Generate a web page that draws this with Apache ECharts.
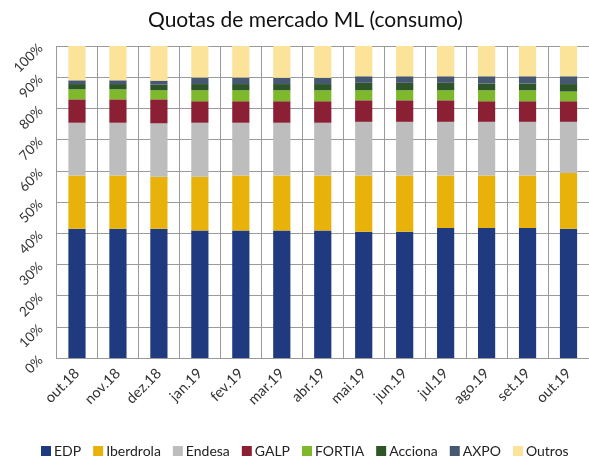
<!DOCTYPE html>
<html>
<head>
<meta charset="utf-8">
<script src="https://cdn.jsdelivr.net/npm/echarts@6/dist/echarts.min.js"></script>
<style>html,body{margin:0;padding:0;background:#fff}#c{width:589px;height:459px}</style>
</head>
<body>
<div id="c"></div>
<script>
const categories = ['out.18','nov.18','dez.18','jan.19','fev.19','mar.19','abr.19','mai.19','jun.19','jul.19','ago.19','set.19','out.19'];
const EDP       = [41.4,41.4,41.4,40.9,40.9,40.9,40.9,40.5,40.5,41.7,41.7,41.7,41.4];
const Iberdrola = [17.1,17.1,16.7,17.2,17.6,17.6,17.6,18.0,18.0,16.8,16.8,16.8,17.9];
const Endesa    = [16.9,16.9,17.1,17.3,16.9,16.9,16.9,17.2,17.2,17.2,17.2,17.2,16.4];
const GALP      = [7.5,7.5,7.7,6.9,6.9,6.9,6.9,6.9,6.9,6.9,6.6,6.6,6.6];
const FORTIA    = [3.2,3.2,2.9,3.5,3.5,3.5,3.5,3.2,3.2,3.2,3.5,3.5,3.1];
const Acciona   = [1.7,1.7,1.8,2.0,2.0,2.0,2.0,2.4,2.4,2.4,2.2,2.2,2.4];
const AXPO      = [1.2,1.2,1.3,2.1,2.1,2.0,2.0,2.1,2.1,2.1,2.3,2.3,2.5];
const Outros    = [11.0,11.0,11.1,10.1,10.1,10.2,10.2,9.7,9.7,9.7,9.7,9.7,9.7];
const yTicks = [0,10,20,30,40,50,60,70,80,90,100];

const seriesDefs = [
  ['EDP', EDP, '#203A80'],
  ['Iberdrola', Iberdrola, '#E8B20A'],
  ['Endesa', Endesa, '#BDBDBD'],
  ['GALP', GALP, '#8B2035'],
  ['FORTIA', FORTIA, '#7DB92B'],
  ['Acciona', Acciona, '#2D5527'],
  ['AXPO', AXPO, '#475872'],
  ['Outros', Outros, '#FBE39A']
];
const font = 'Lato, "Open Sans", sans-serif';
const chart = echarts.init(document.getElementById('c'), null, {renderer:'canvas'});
chart.setOption({
  animation:false,
  backgroundColor:'#fff',
  title:{text:'Quotas de mercado ML (consumo)', left:143, top:5,
    textStyle:{fontFamily:font, fontSize:21, fontWeight:'normal', color:'#111'}},
  grid:{left:56.5, right:-2, top:46, bottom:101},
  legend:{bottom:-4, left:36, width:580, itemWidth:10, itemHeight:10, itemGap:12,
    icon:'rect', textStyle:{fontFamily:font, fontSize:14, color:'#222', padding:[0,0,0,-2]}},
  xAxis:{type:'category', data:categories,
    axisLine:{lineStyle:{color:'#999'}}, axisTick:{show:false},
    splitLine:{show:true, lineStyle:{color:'#9a9a9a', width:1}},
    axisLabel:{rotate:45, interval:0, margin:13, fontFamily:font, fontSize:14.5, color:'#333'}},
  yAxis:{type:'value', min:yTicks[0], max:yTicks[yTicks.length-1], interval:10,
    axisLine:{show:false}, axisTick:{show:false},
    splitLine:{lineStyle:{color:'#9a9a9a', width:1}},
    axisLabel:{rotate:45, margin:16, formatter:v=>v+'%', fontFamily:font, fontSize:13.5, color:'#333'}},
  series: seriesDefs.map(([n,d,c])=>({
    name:n, type:'bar', stack:'a', data:d, barWidth:'42%',
    itemStyle:{color:c}
  }))
});
</script>
</body>
</html>
